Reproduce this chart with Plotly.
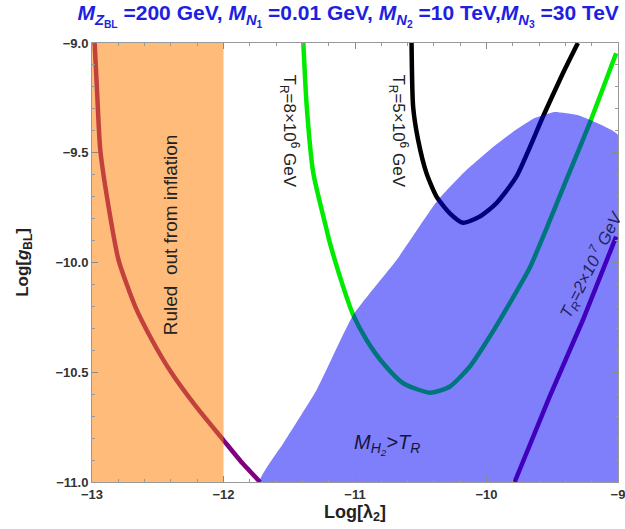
import plotly.graph_objects as go

# Reheating-temperature contours in the (Log[lambda_2], Log[g_BL]) plane
inflation_x = [-12.98, -12.962, -12.937, -12.874, -12.798, -12.671, -12.544,
               -12.393, -12.208, -12.001, -11.855, -11.722]
inflation_y = [-9.0, -9.214, -9.487, -9.746, -9.989, -10.201, -10.353,
               -10.505, -10.657, -10.809, -10.915, -11.0]

tr8e6_x = [-11.393, -11.367, -11.317, -11.216, -11.190, -11.090, -11.014, -10.912,
           -10.786, -10.634, -10.432, -10.281, -10.128, -9.976, -9.824, -9.672,
           -9.558, -9.393, -9.216, -9.014]
tr8e6_y = [-9.0, -9.290, -9.593, -9.850, -9.913, -10.110, -10.239, -10.353,
           -10.459, -10.550, -10.593, -10.566, -10.475, -10.338, -10.186, -10.025,
           -9.866, -9.624, -9.366, -9.047]

tr5e6_x = [-10.570, -10.558, -10.520, -10.456, -10.380, -10.279, -10.178,
           -10.052, -9.925, -9.773, -9.571, -9.419, -9.305]
tr5e6_y = [-9.0, -9.290, -9.442, -9.594, -9.700, -9.776, -9.819,
           -9.791, -9.730, -9.609, -9.336, -9.138, -9.0]

tr2e7_x = [-9.786, -9.520, -9.267, -9.014]
tr2e7_y = [-11.0, -10.611, -10.262, -9.882]

# Boundary of the M_H2 > T_R region
mh2_x = [-11.722, -11.545, -11.292, -11.014, -10.684, -10.380, -10.153, -9.976,
         -9.799, -9.634, -9.483, -9.308, -9.141, -9.0]
mh2_y = [-11.0, -10.824, -10.581, -10.239, -9.989, -9.723, -9.579, -9.487,
         -9.405, -9.342, -9.314, -9.328, -9.369, -9.419]

# Excluded by inflation: Log[lambda_2] below this value
inflation_bound = -12.0

x_range = [-13, -9]
y_range = [-11, -9]
x_ticks = [-13, -12, -11, -10, -9]
y_ticks = [-9.0, -9.5, -10.0, -10.5, -11.0]

PURPLE = "rgb(128,0,128)"
GREEN = "rgb(0,235,0)"
BLACK = "rgb(0,0,0)"
LW = 4.5
FONT = "Liberation Sans, Arial, sans-serif"

fig = go.Figure()

for xs, ys, col, shape in [(inflation_x, inflation_y, PURPLE, "spline"),
                           (tr8e6_x, tr8e6_y, GREEN, "spline"),
                           (tr5e6_x, tr5e6_y, BLACK, "spline"),
                           (tr2e7_x, tr2e7_y, PURPLE, "linear")]:
    fig.add_trace(go.Scatter(x=xs, y=ys, mode="lines",
                             line=dict(color=col, width=LW, shape=shape, smoothing=0.6),
                             hoverinfo="skip", showlegend=False))

# Translucent shaded regions drawn on top of the contours
fig.add_trace(go.Scatter(
    x=[x_range[0], inflation_bound, inflation_bound, x_range[0], x_range[0]],
    y=[y_range[0], y_range[0], y_range[1], y_range[1], y_range[0]],
    mode="lines", fill="toself", fillcolor="rgba(255,125,0,0.52)",
    line=dict(width=0), hoverinfo="skip", showlegend=False))

region_x = mh2_x + [x_range[1], mh2_x[0]]
region_y = mh2_y + [y_range[0], mh2_y[0]]
fig.add_trace(go.Scatter(
    x=region_x, y=region_y,
    mode="lines", fill="toself", fillcolor="rgba(0,0,250,0.5)",
    line=dict(width=0, shape="spline", smoothing=0.4), hoverinfo="skip", showlegend=False))

annotations = [
    dict(x=-12.405, y=-9.875, text="Ruled  out from inflation", textangle=-90,
         font=dict(family=FONT, size=19, color="#222")),
    dict(x=-11.50, y=-9.40, text="T<sub>R</sub>=8×10<sup>6</sup> GeV", textangle=90,
         font=dict(family=FONT, size=17, color="#222")),
    dict(x=-10.67, y=-9.40, text="T<sub>R</sub>=5×10<sup>6</sup> GeV", textangle=90,
         font=dict(family=FONT, size=17, color="#222")),
    dict(x=-9.20, y=-10.011, text="<i>T<sub>R</sub>=2×10<sup> 7</sup> GeV</i>", textangle=-63,
         font=dict(family=FONT, size=17, color="#23235a")),
    dict(x=-10.76, y=-10.83, text="<i>M<sub>H<sub>2</sub></sub>>T<sub>R</sub></i>",
         font=dict(family=FONT, size=20, color="#14143c")),
]
for a in annotations:
    a.update(xref="x", yref="y", showarrow=False)

title_text = ("<i>M</i><sub><i>Z</i><sub>BL</sub></sub> =200 GeV, "
              "<i>M</i><sub><i>N</i><sub>1</sub></sub> =0.01 GeV, "
              "<i>M</i><sub><i>N</i><sub>2</sub></sub> =10 TeV,"
              "<i>M</i><sub><i>N</i><sub>3</sub></sub> =30 TeV")

tick_font = dict(family=FONT, size=13, color="#333", weight="bold")
axis_common = dict(
    showgrid=False, zeroline=False, showline=True, linecolor="#999", linewidth=1,
    mirror="ticks", ticks="inside", ticklen=6, tickcolor="#888", tickwidth=1,
    tickfont=tick_font, ticklabeloverflow="allow", automargin=False,
)

fig.update_layout(
    width=625, height=529,
    margin=dict(l=92, r=7, t=43, b=47),
    paper_bgcolor="white", plot_bgcolor="white",
    title=dict(text=title_text, x=0.487, xref="paper", xanchor="center",
               y=1 - 13 / 529, yref="container", yanchor="middle",
               font=dict(family=FONT, size=21, color="#1f1fe0", weight="bold")),
    xaxis=dict(range=x_range, tickvals=x_ticks,
               ticktext=[f"{v:g}".replace("-", "−") for v in x_ticks],
               minor=dict(dtick=0.2, ticks="inside", ticklen=3, tickcolor="#999"),
               title=dict(text="Log[λ<sub>2</sub>]", standoff=4,
                          font=dict(family=FONT, size=18, color="#222", weight="bold")),
               **axis_common),
    yaxis=dict(range=y_range, tickvals=y_ticks,
               ticktext=[f"{v:.1f}".replace("-", "−") for v in y_ticks],
               minor=dict(dtick=0.1, ticks="inside", ticklen=3, tickcolor="#999"),
               title=dict(text="Log[<i>g</i><sub>BL</sub>]", standoff=22,
                          font=dict(family=FONT, size=17, color="#222", weight="bold")),
               **axis_common),
    annotations=annotations,
)

fig.write_html("out.html")
